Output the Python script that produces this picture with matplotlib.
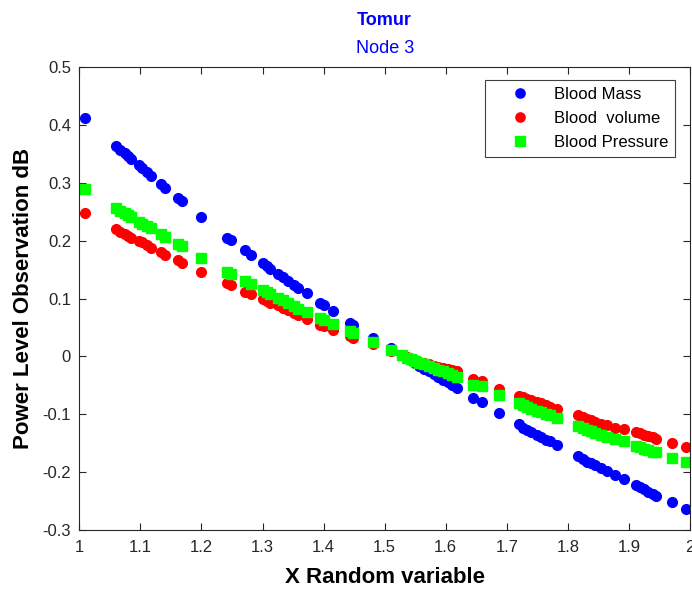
import matplotlib
matplotlib.use("Agg")
import matplotlib.pyplot as plt

plt.rcParams["font.family"] = ["Liberation Sans", "DejaVu Sans"]

# values
x_vals = [1.010,
          1.060, 1.067, 1.074, 1.080, 1.085, 1.097, 1.103, 1.110, 1.118,
          1.134, 1.141,
          1.161, 1.168,
          1.200,
          1.242, 1.248,
          1.272, 1.281,
          1.300, 1.307, 1.313, 1.325, 1.333, 1.342, 1.352, 1.358,
          1.373,
          1.394, 1.401,
          1.415,
          1.443, 1.448,
          1.481,
          1.510,
          1.528, 1.536, 1.543, 1.550, 1.557, 1.565, 1.572, 1.580, 1.588, 1.595, 1.603, 1.610, 1.618,
          1.645, 1.659,
          1.688,
          1.720, 1.727, 1.733, 1.740, 1.749, 1.756, 1.764, 1.771, 1.782,
          1.817, 1.824, 1.831, 1.838, 1.844, 1.855, 1.864, 1.877,
          1.892,
          1.911, 1.918, 1.925, 1.932, 1.939, 1.944,
          1.970,
          1.993]

blood_mass = [0.412,
              0.363, 0.357, 0.352, 0.347, 0.341, 0.330, 0.325, 0.319, 0.312,
              0.298, 0.291,
              0.274, 0.268,
              0.240,
              0.205, 0.201,
              0.183, 0.176,
              0.162, 0.156, 0.151, 0.143, 0.137, 0.131, 0.124, 0.119,
              0.109,
              0.093, 0.089,
              0.078,
              0.058, 0.054,
              0.032,
              0.015,
              0.003, -0.002, -0.007, -0.012, -0.016, -0.021, -0.026, -0.031, -0.036, -0.040, -0.045, -0.050, -0.055,
              -0.072, -0.079,
              -0.097,
              -0.117, -0.124, -0.127, -0.130, -0.136, -0.139, -0.144, -0.147, -0.153,
              -0.172, -0.177, -0.182, -0.185, -0.188, -0.193, -0.198, -0.205,
              -0.212,
              -0.222, -0.225, -0.230, -0.234, -0.238, -0.241,
              -0.252,
              -0.264]

blood_volume = [0.248,
                0.220, 0.215, 0.211, 0.208, 0.205, 0.200, 0.197, 0.193, 0.188,
                0.180, 0.175,
                0.166, 0.162,
                0.146,
                0.126, 0.123,
                0.111, 0.107,
                0.099, 0.096, 0.093, 0.088, 0.084, 0.080, 0.075, 0.071,
                0.065,
                0.055, 0.052,
                0.046,
                0.035, 0.032,
                0.021,
                0.010,
                0.002, -0.001, -0.004, -0.006, -0.009, -0.011, -0.014, -0.016, -0.018, -0.020, -0.022, -0.024, -0.026,
                -0.039, -0.042,
                -0.057,
                -0.068, -0.071, -0.074, -0.076, -0.078, -0.081, -0.084, -0.087, -0.091,
                -0.101, -0.105, -0.108, -0.110, -0.113, -0.116, -0.119, -0.123,
                -0.126,
                -0.131, -0.133, -0.136, -0.138, -0.140, -0.142,
                -0.150,
                -0.157]

blood_pressure = [0.290,
                  0.256, 0.252, 0.248, 0.244, 0.241, 0.233, 0.229, 0.226, 0.221,
                  0.211, 0.206,
                  0.195, 0.190,
                  0.170,
                  0.146, 0.143,
                  0.130, 0.125,
                  0.115, 0.111, 0.107, 0.101, 0.097, 0.092, 0.087, 0.082,
                  0.076,
                  0.066, 0.063,
                  0.056,
                  0.043, 0.040,
                  0.025,
                  0.011,
                  0.002, -0.002, -0.005, -0.008, -0.011, -0.014, -0.017, -0.020, -0.023, -0.026, -0.029, -0.032, -0.035,
                  -0.049, -0.052,
                  -0.067,
                  -0.081, -0.084, -0.088, -0.091, -0.094, -0.096, -0.100, -0.102, -0.106,
                  -0.120, -0.124, -0.127, -0.129, -0.132, -0.136, -0.139, -0.143,
                  -0.147,
                  -0.155, -0.157, -0.160, -0.162, -0.165, -0.166,
                  -0.176,
                  -0.183]

x_ticks = [1, 1.1, 1.2, 1.3, 1.4, 1.5, 1.6, 1.7, 1.8, 1.9, 2]
y_ticks = [-0.3, -0.2, -0.1, 0, 0.1, 0.2, 0.3, 0.4, 0.5]

fig = plt.figure(figsize=(6.92, 5.90), dpi=100)
ax = fig.add_axes([0.1147, 0.1017, 0.8824, 0.7847])

ax.plot(x_vals, blood_mass, linestyle="none", marker="o", markersize=7,
        color=(0, 0, 1), label="Blood Mass")
ax.plot(x_vals, blood_volume, linestyle="none", marker="o", markersize=7,
        color=(1, 0, 0), label="Blood  volume")
ax.plot(x_vals, blood_pressure, linestyle="none", marker="s", markersize=7.5,
        color=(0, 1, 0), label="Blood Pressure")

ax.set_xlim(1, 2)
ax.set_ylim(-0.3, 0.5)
ax.set_xticks(x_ticks)
ax.set_xticklabels([f"{t:g}" for t in x_ticks])
ax.set_yticks(y_ticks)
ax.set_yticklabels([f"{t:g}" for t in y_ticks])
ax.tick_params(direction="in", top=True, right=True, length=5, width=0.8,
               labelsize=12, color="0.15", labelcolor="0.15")
ax.tick_params(axis="x", pad=7)
ax.tick_params(axis="y", pad=6)
for s in ax.spines.values():
    s.set_linewidth(0.8)
    s.set_color("0.15")

ax.set_xlabel("X Random variable", fontsize=16, fontweight="bold", labelpad=9)
ax.set_ylabel("Power Level Observation dB", fontsize=16, fontweight="bold", labelpad=6)

ax.text(0.5, 1.0 + 47 / 463, "Tomur", transform=ax.transAxes, ha="center", va="center",
        fontsize=13, fontweight="bold", color=(0, 0, 1))
ax.text(0.5, 1.0 + 19 / 463, "Node 3", transform=ax.transAxes, ha="center", va="center",
        fontsize=13, color=(0, 0, 1))

leg = ax.legend(loc="upper right", bbox_to_anchor=(0.9755, 0.972), borderaxespad=0,
                fontsize=12, numpoints=1, markerscale=0.95, handlelength=3.4,
                handletextpad=0.3, labelspacing=0.55, borderpad=0.42,
                fancybox=False, framealpha=1)
leg.get_frame().set_edgecolor("0.25")
leg.get_frame().set_linewidth(0.8)

fig.savefig("out.png", dpi=100)
